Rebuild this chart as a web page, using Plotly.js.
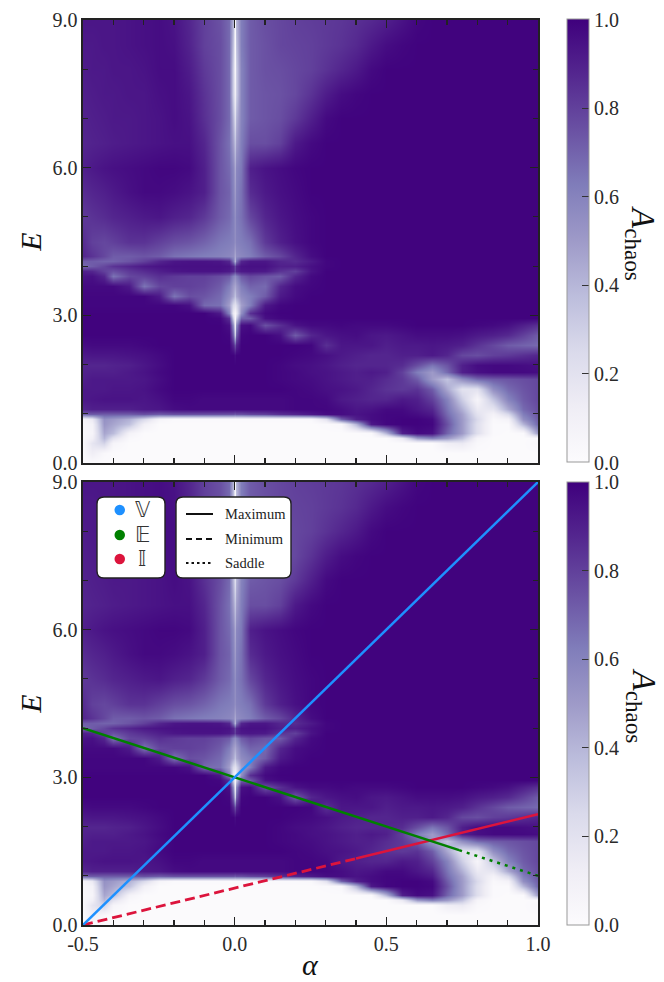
<!DOCTYPE html>
<html><head><meta charset="utf-8">
<script src="https://cdn.plot.ly/plotly-3.0.1.min.js"></script>
<style>html,body{margin:0;padding:0;background:#fff}#chart{width:664px;height:982px}</style>
</head><body><div id="chart"></div>
<script>
const alphaGrid=[-0.5,-0.47,-0.43,-0.4,-0.35,-0.3,-0.25,-0.2,-0.15,-0.1,-0.05,-0.02,-0.006,0,0.006,0.02,0.05,0.1,0.15,0.2,0.25,0.3,0.35,0.4,0.45,0.5,0.55,0.6,0.65,0.7,0.75,0.8,0.85,0.9,0.95,1];
const energyGrid=[0,0.2,0.4,0.5,0.6,0.8,0.9,1,1.1,1.3,1.5,1.7,1.85,2,2.2,2.4,2.6,2.8,2.95,3.05,3.2,3.4,3.6,3.8,3.9,4,4.1,4.2,4.5,5,5.5,6,6.5,7,7.5,8,8.5,9];
const chaosPercent=[
[1,1,1,1,1,1,1,1,1,1,1, 1,1,1,1,1, 1,1,1,1,1,1,1,1,1,1,1,1,1,1,1,1,1,1,1,1],
[2,12,3,1,1,1,1,1,1,1,1, 1,1,1,1,1, 1,1,1,1,1,1,1,1,1,1,1,1,1,1,1,1,1,1,1,1],
[3,18,28,6,1,1,1,1,1,1,1, 1,1,1,1,1, 1,1,1,1,1,1,1,1,1,1,1,1,1,12,15,3,1,1,1,4],
[3,10,40,20,3,1,1,1,1,1,1, 1,1,1,1,1, 1,1,1,1,1,1,1,1,1,1,15,50,60,50,35,6,1,1,1,2],
[3,6,46,38,8,1,1,1,1,1,1, 1,1,1,1,1, 1,1,1,1,1,1,1,1,3,40,90,97,95,70,50,22,2,1,2,50],
[4,8,52,46,36,10,1,1,1,1,1, 1,1,1,1,1, 1,1,1,1,1,2,4,40,92,98,99,99,98,75,50,22,2,2,40,70],
[6,15,54,50,42,25,6,2,2,2,2, 2,2,2,2,2, 2,2,2,2,3,20,70,90,96,98,99,99,97,72,50,25,3,8,55,72],
[70,72,72,72,72,75,72,75,75,75,75, 75,75,72,75,75, 78,80,85,88,92,96,96,94,96,98,98,96,92,68,48,20,8,25,62,74],
[88,90,90,90,90,92,93,96,97,97,97, 97,97,97,97,97, 97,97,97,98,98,98,96,93,94,97,97,93,88,65,42,15,18,45,68,76],
[92,93,94,94,94,93,95,98,98,97,97, 97,97,97,97,97, 97,97,97,98,98,97,92,90,88,88,92,90,80,60,30,6,35,60,72,78],
[92,92,92,93,93,94,97,99,99,99,99, 99,99,99,99,99, 99,99,99,98,97,95,94,92,88,84,82,84,72,45,20,20,55,68,74,78],
[90,92,92,92,92,93,96,99,99,99,99, 99,99,99,99,99, 99,99,98,97,96,94,92,90,90,86,82,72,50,35,55,68,72,74,76,78],
[89,90,90,90,92,94,97,99,99,99,99, 99,99,99,99,99, 99,99,98,97,95,94,92,90,92,90,80,62,50,68,90,95,97,97,97,96],
[88,88,88,89,90,93,96,99,99,99,99, 99,99,99,99,99, 99,99,98,96,95,93,90,88,88,88,86,76,65,74,90,96,97,97,96,95],
[92,93,93,93,94,95,97,99,99,99,99, 99,99,96,99,99, 99,99,99,98,97,95,92,90,88,88,90,90,92,88,78,76,80,82,85,88],
[96,97,97,97,97,98,99,99,99,99,99, 99,88,75,88,99, 99,99,99,99,98,85,93,93,93,90,92,92,93,92,90,84,78,72,70,68],
[99,99,99,99,99,99,99,99,99,99,99, 98,70,30,70,98, 99,99,95,72,88,93,95,96,93,92,94,96,96,96,95,92,90,87,80,72],
[99,99,99,99,99,99,99,99,99,99,99, 95,55,12,55,95, 97,75,85,94,97,97,98,97,97,97,98,99,99,99,99,98,97,95,90,85],
[99,99,99,99,99,99,99,99,99,99,98, 85,30,5,30,70, 72,95,98,99,99,99,99,99,99,99,99,99,99,99,99,99,99,99,99,99],
[99,99,99,99,99,99,99,99,99,99,92, 60,15,5,15,55, 85,97,99,99,99,99,99,99,99,99,99,99,99,99,99,99,99,99,99,99],
[98,98,98,98,98,98,98,98,95,68,66, 48,25,20,25,48, 62,92,98,99,99,99,99,99,99,99,99,99,99,99,99,99,99,99,99,99],
[98,98,98,98,98,98,92,65,76,74,68, 56,45,35,45,56, 62,72,92,97,99,99,99,99,99,99,99,99,99,99,99,99,99,99,99,99],
[97,97,97,97,92,65,78,80,80,78,72, 62,50,45,50,62, 70,68,88,96,98,99,99,99,99,99,99,99,99,99,99,99,99,99,99,99],
[94,95,88,65,78,80,85,82,80,80,76, 72,60,55,60,72, 78,74,72,88,97,99,99,99,99,99,99,99,99,99,99,99,99,99,99,99],
[90,88,80,75,82,86,90,93,94,94,94, 92,88,80,88,92, 93,92,84,80,94,99,99,99,99,99,99,99,99,99,99,99,99,99,99,99],
[68,72,78,84,88,92,94,95,95,95,95, 94,88,78,88,94, 95,95,90,90,95,98,99,99,99,99,99,99,99,99,99,99,99,99,99,99],
[72,72,70,70,74,80,88,93,94,94,93, 88,65,40,65,88, 93,93,88,86,92,98,99,99,99,99,99,99,99,99,99,99,99,99,99,99],
[88,84,78,72,72,74,72,66,64,62,60, 58,55,45,55,58, 62,72,78,88,96,99,99,99,99,99,99,99,99,99,99,99,99,99,99,99],
[86,80,78,80,84,84,80,76,74,70,64, 62,60,55,60,62, 66,82,90,95,98,99,99,99,99,99,99,99,99,99,99,99,99,99,99,99],
[82,84,86,88,90,92,93,90,88,82,72, 68,62,55,62,66, 78,88,93,96,98,99,99,99,99,99,99,99,99,99,99,99,99,99,99,99],
[86,88,90,92,95,97,97,96,94,90,74, 70,60,50,60,66, 86,92,95,97,99,99,99,99,99,99,99,99,99,99,99,99,99,99,99,99],
[90,92,94,95,96,97,98,98,97,90,74, 68,58,45,58,64, 90,94,96,98,99,99,99,99,99,99,99,99,99,99,99,99,99,99,99,99],
[88,89,90,91,92,93,94,95,95,88,74, 66,48,35,48,62, 76,76,80,92,97,99,99,99,99,99,99,99,99,99,99,99,99,99,99,99],
[89,90,91,92,92,93,94,96,94,85,76, 68,40,22,40,60, 72,74,76,82,90,97,99,99,99,99,99,99,99,99,99,99,99,99,99,99],
[90,91,92,92,93,93,95,96,93,84,76, 68,30,12,30,60, 72,74,75,78,84,91,96,98,99,99,99,99,99,99,99,99,99,99,99,99],
[91,92,92,93,93,94,96,96,91,82,76, 68,30,5,30,60, 72,75,76,78,80,84,88,92,97,99,99,99,99,99,99,99,99,99,99,99],
[92,92,93,93,94,95,96,95,89,80,76, 68,35,4,35,62, 72,75,78,79,80,82,84,87,92,96,98,99,99,99,99,99,99,99,99,99],
[93,93,93,93,94,95,96,94,88,80,75, 68,40,5,40,62, 72,76,78,80,81,82,83,85,87,90,94,98,99,99,99,99,99,99,99,99]
];
const purples=[[0,'#fcfbfd'],[0.125,'#efedf5'],[0.25,'#dadaeb'],[0.375,'#bcbddc'],[0.5,'#9e9ac8'],[0.625,'#807dba'],[0.75,'#6a51a3'],[0.875,'#54278f'],[1,'#3f007d']];

const vAlpha=[-0.5,1], vEnergy=[0,9];
const eMaxAlpha=[-0.5,0.74], eMaxEnergy=[4,1.52];
const eSaddleAlpha=[0.74,1], eSaddleEnergy=[1.52,1];
const iMinAlpha=[-0.5,0.4], iMinEnergy=[0,1.35];
const iMaxAlpha=[0.4,1], iMaxEnergy=[1.35,2.25];

const xMajor=[-0.5,0,0.5,1], xMajorText=['-0.5','0.0','0.5','1.0'];
const xMinor=[-0.4,-0.3,-0.2,-0.1,0.1,0.2,0.3,0.4,0.6,0.7,0.8,0.9];
const yMajor=[0,3,6,9], yMajorText=['0.0','3.0','6.0','9.0'];
const yMinor=[1,2,4,5,7,8];
const barTicks=[0,0.2,0.4,0.6,0.8,1], barText=['0.0','0.2','0.4','0.6','0.8','1.0'];
const speciesNames=['𝕍','𝔼','𝕀'], speciesColors=['#1e90ff','#008000','#dc143c'];
const styleNames=['Maximum','Minimum','Saddle'], styleDash=['solid','6px,4px','2.5px,3px'];

const L=83,R=538,T=20,B=925;
const xp=p=>(p-L)/(R-L), yp=p=>(B-p)/(B-T);
const serif='"Liberation Serif",serif', ink='#2a2a2a';
const chaos=chaosPercent.map(r=>r.map(v=>v/100));

function heat(xa,ya,cy){return {type:'heatmap',x:alphaGrid,y:energyGrid,z:chaos,xaxis:xa,yaxis:ya,zmin:0,zmax:1,zsmooth:'best',colorscale:purples,hoverinfo:'skip',
 colorbar:{x:xp(567),xanchor:'left',xpad:0,ypad:0,y:cy,yanchor:'middle',len:(B-T-19)/2/(B-T),lenmode:'fraction',thickness:22,outlinecolor:'#999',outlinewidth:1,
  tickmode:'array',tickvals:barTicks,ticktext:barText,ticks:'inside',ticklen:7,tickcolor:'#333',tickwidth:1.2,tickfont:{family:serif,size:20,color:ink}}};}
function line(x,y,color,dash,w){return {type:'scatter',mode:'lines',x:x,y:y,xaxis:'x2',yaxis:'y2',line:{color:color,width:w||2.5,dash:dash},hoverinfo:'skip',showlegend:false};}

const data=[heat('x','y',yp(241)),heat('x2','y2',yp(703.5)),
 line(iMinAlpha,iMinEnergy,'#dc143c','10px,5px',2.8),line(iMaxAlpha,iMaxEnergy,'#dc143c','solid'),
 line(eMaxAlpha,eMaxEnergy,'#008000','solid'),line(eSaddleAlpha,eSaddleEnergy,'#008000','3px,5px'),
 line(vAlpha,vEnergy,'#1e90ff','solid')];

function xAxis(labels,anchor){return {domain:[0,1],range:[-0.5,1],anchor:anchor,tickmode:'array',tickvals:xMajor,ticktext:xMajorText,ticks:'inside',ticklen:8,tickwidth:1.3,tickcolor:'#222',showticklabels:labels,
 tickfont:{family:serif,size:20,color:ink},showgrid:false,zeroline:false,showline:true,linecolor:'#222',linewidth:1.6,mirror:'allticks',
 minor:{tickmode:'array',tickvals:xMinor,ticks:'inside',ticklen:5,tickwidth:1.1,tickcolor:'#222',showgrid:false}};}
function yAxis(dom,anchor){return {domain:dom,range:[0,9],anchor:anchor,tickmode:'array',tickvals:yMajor,ticktext:yMajorText,ticks:'inside',ticklen:8,tickwidth:1.3,tickcolor:'#222',
 tickfont:{family:serif,size:20,color:ink},showgrid:false,zeroline:false,showline:true,linecolor:'#222',linewidth:1.6,mirror:'allticks',
 title:{text:'<i>E</i>',font:{family:serif,size:30,color:'#111'},standoff:2},
 minor:{tickmode:'array',tickvals:yMinor,ticks:'inside',ticklen:5,tickwidth:1.1,tickcolor:'#222',showgrid:false}};}
function topMinor(over,anchor){return {overlaying:over,anchor:anchor,side:'top',range:[-0.5,1],tickmode:'array',tickvals:xMinor,ticks:'inside',ticklen:5,tickwidth:1.1,tickcolor:'#222',showticklabels:false,showgrid:false,zeroline:false,showline:false};}
function rightMinor(over,anchor){return {overlaying:over,anchor:anchor,side:'right',range:[0,9],tickmode:'array',tickvals:yMinor,ticks:'inside',ticklen:5,tickwidth:1.1,tickcolor:'#222',showticklabels:false,showgrid:false,zeroline:false,showline:false};}

function round(x0,y0,x1,y1,r){const X=xp,Y=yp;return {type:'path',xref:'paper',yref:'paper',layer:'above',fillcolor:'#fff',line:{color:'#222',width:1.4},
 path:`M${X(x0+r)},${Y(y0)} L${X(x1-r)},${Y(y0)} Q${X(x1)},${Y(y0)} ${X(x1)},${Y(y0+r)} L${X(x1)},${Y(y1-r)} Q${X(x1)},${Y(y1)} ${X(x1-r)},${Y(y1)} L${X(x0+r)},${Y(y1)} Q${X(x0)},${Y(y1)} ${X(x0)},${Y(y1-r)} L${X(x0)},${Y(y0+r)} Q${X(x0)},${Y(y0)} ${X(x0+r)},${Y(y0)} Z`};}
const shapes=[round(97,497,165,578,7),round(176,497,291,578,7)];
const annotations=[];
[241,703.5].forEach(c=>annotations.push({xref:'paper',yref:'paper',x:xp(641),y:yp(c+2),text:'<i>A</i><sub>chaos</sub>',textangle:90,showarrow:false,xanchor:'center',yanchor:'middle',font:{family:serif,size:33,color:'#111'}}));
annotations.push({xref:'paper',yref:'paper',x:xp(310),y:yp(964),text:'<i>α</i>',showarrow:false,xanchor:'center',yanchor:'middle',font:{family:serif,size:30,color:'#111'}});
const keyY=[510,535,559], lineY=[514,539,563];
speciesNames.forEach((n,i)=>{
 shapes.push({type:'circle',xref:'paper',yref:'paper',layer:'above',x0:xp(114.5),x1:xp(125),y0:yp(keyY[i]+5.2),y1:yp(keyY[i]-5.2),fillcolor:speciesColors[i],line:{width:0}});
 annotations.push({xref:'paper',yref:'paper',x:xp(142),y:yp(keyY[i]),text:n,showarrow:false,font:{family:'"DejaVu Sans",sans-serif',size:21,color:'#333'},xanchor:'center',yanchor:'middle'});
});
styleNames.forEach((n,i)=>{
 shapes.push({type:'line',xref:'paper',yref:'paper',layer:'above',x0:xp(186),x1:xp(213),y0:yp(lineY[i]),y1:yp(lineY[i]),line:{color:'#111',width:2,dash:styleDash[i]}});
 annotations.push({xref:'paper',yref:'paper',x:xp(223),y:yp(lineY[i]),text:n,showarrow:false,font:{family:serif,size:14.5,color:'#222'},xanchor:'left',yanchor:'middle'});
});

const layout={width:664,height:982,margin:{l:L,r:664-R,t:T,b:982-B,pad:0,autoexpand:false},paper_bgcolor:'#fff',plot_bgcolor:'#fff',showlegend:false,
 xaxis:xAxis(false,'y'),yaxis:yAxis([yp(463),1],'x'),xaxis2:xAxis(true,'y2'),yaxis2:yAxis([0,yp(482)],'x2'),
 xaxis3:topMinor('x','y'),yaxis3:rightMinor('y','x'),xaxis4:topMinor('x2','y2'),yaxis4:rightMinor('y2','x2'),
 shapes:shapes,annotations:annotations};
Plotly.newPlot('chart',data,layout,{displayModeBar:false,staticPlot:true});
</script></body></html>
